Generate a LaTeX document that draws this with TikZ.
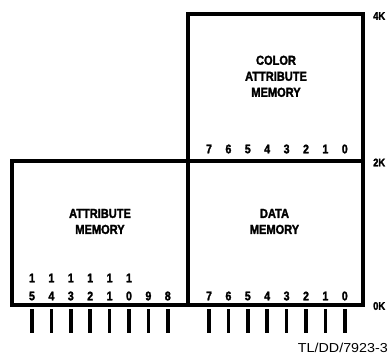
\documentclass[tikz,border=0pt]{standalone}
\usepackage{fontspec}
\newfontfamily\memfont[FakeStretch=0.85, FakeBold=2]{Liberation Sans Bold}
\newfontfamily\notefont[FakeStretch=1.1]{Liberation Sans}
\usetikzlibrary{positioning}

\begin{document}
\begin{tikzpicture}[x=1pt, y=1pt, node distance=19.4pt,
        cell/.style = {draw, line width=4pt, inner sep=0pt, minimum width=175pt},
        title/.style = {font=\memfont\fontsize{13}{16}\selectfont, align=center, inner sep=0pt},
        digit/.style = {font=\memfont\fontsize{12.5}{15}\selectfont, inner sep=0pt},
        lead/.style = {fill, inner sep=0pt, minimum width=3.5pt, minimum height=24pt},
        kilo/.style = {font=\memfont\fontsize{11}{13}\selectfont, inner sep=0pt, anchor=west}]
                \useasboundingbox (0,0) rectangle (388,354);
                % memory blocks
                \node[cell, minimum height=146.5pt] (colmem) at (275.5,266.75) {};
                \node[cell, minimum width=176pt, minimum height=144.5pt] (attmem) at (100,121.25) {};
                \node[cell, minimum height=144.5pt] (datmem) at (275.5,121.25) {};
                \node[title] (coltxt) at (276,277.7) {COLOR\\ATTRIBUTE\\MEMORY};
                \node[title] (atttxt) at (100,132.5) {ATTRIBUTE\\MEMORY};
                \node[title] (dattxt) at (274.5,132.5) {DATA\\MEMORY};
                % attribute bits
                \node[digit] (a15) at (32,58) {5};
                \node[digit] (a14) [right of=a15] {4};
                \node[digit] (a13) [right of=a14] {3};
                \node[digit] (a12) [right of=a13] {2};
                \node[digit] (a11) [right of=a12] {1};
                \node[digit] (a10) [right of=a11] {0};
                \node[digit] (a9) [right of=a10] {9};
                \node[digit] (a8) [right of=a9] {8};
                \node[digit] (u15) [above of=a15, node distance=18pt] {1};
                \node[digit] (u14) [above of=a14, node distance=18pt] {1};
                \node[digit] (u13) [above of=a13, node distance=18pt] {1};
                \node[digit] (u12) [above of=a12, node distance=18pt] {1};
                \node[digit] (u11) [above of=a11, node distance=18pt] {1};
                \node[digit] (u10) [above of=a10, node distance=18pt] {1};
                % data bits
                \node[digit] (d7) at (209,58) {7};
                \node[digit] (d6) [right of=d7] {6};
                \node[digit] (d5) [right of=d6] {5};
                \node[digit] (d4) [right of=d5] {4};
                \node[digit] (d3) [right of=d4] {3};
                \node[digit] (d2) [right of=d3] {2};
                \node[digit] (d1) [right of=d2] {1};
                \node[digit] (d0) [right of=d1] {0};
                % color attribute bits
                \node[digit] (c7) at (209,205) {7};
                \node[digit] (c6) [right of=c7] {6};
                \node[digit] (c5) [right of=c6] {5};
                \node[digit] (c4) [right of=c5] {4};
                \node[digit] (c3) [right of=c4] {3};
                \node[digit] (c2) [right of=c3] {2};
                \node[digit] (c1) [right of=c2] {1};
                \node[digit] (c0) [right of=c1] {0};
                % pins
                \node[lead] (p15) [below of=a15, node distance=25pt] {};
                \node[lead] (p14) [below of=a14, node distance=25pt] {};
                \node[lead] (p13) [below of=a13, node distance=25pt] {};
                \node[lead] (p12) [below of=a12, node distance=25pt] {};
                \node[lead] (p11) [below of=a11, node distance=25pt] {};
                \node[lead] (p10) [below of=a10, node distance=25pt] {};
                \node[lead] (p9) [below of=a9, node distance=25pt] {};
                \node[lead] (p8) [below of=a8, node distance=25pt] {};
                \node[lead] (p7) [below of=d7, node distance=25pt] {};
                \node[lead] (p6) [below of=d6, node distance=25pt] {};
                \node[lead] (p5) [below of=d5, node distance=25pt] {};
                \node[lead] (p4) [below of=d4, node distance=25pt] {};
                \node[lead] (p3) [below of=d3, node distance=25pt] {};
                \node[lead] (p2) [below of=d2, node distance=25pt] {};
                \node[lead] (p1) [below of=d1, node distance=25pt] {};
                \node[lead] (p0) [below of=d0, node distance=25pt] {};
                % address marks
                \node[kilo] (k4) at (373,338) {4K};
                \node[kilo] (k2) at (373,191.5) {2K};
                \node[kilo] (k0) at (373,48) {0K};
                \node[font=\notefont\fontsize{13}{15}\selectfont, inner sep=0pt, anchor=east] (ref) at (388,6.5) {TL/DD/7923-3};
            \end{tikzpicture}
\end{document}
